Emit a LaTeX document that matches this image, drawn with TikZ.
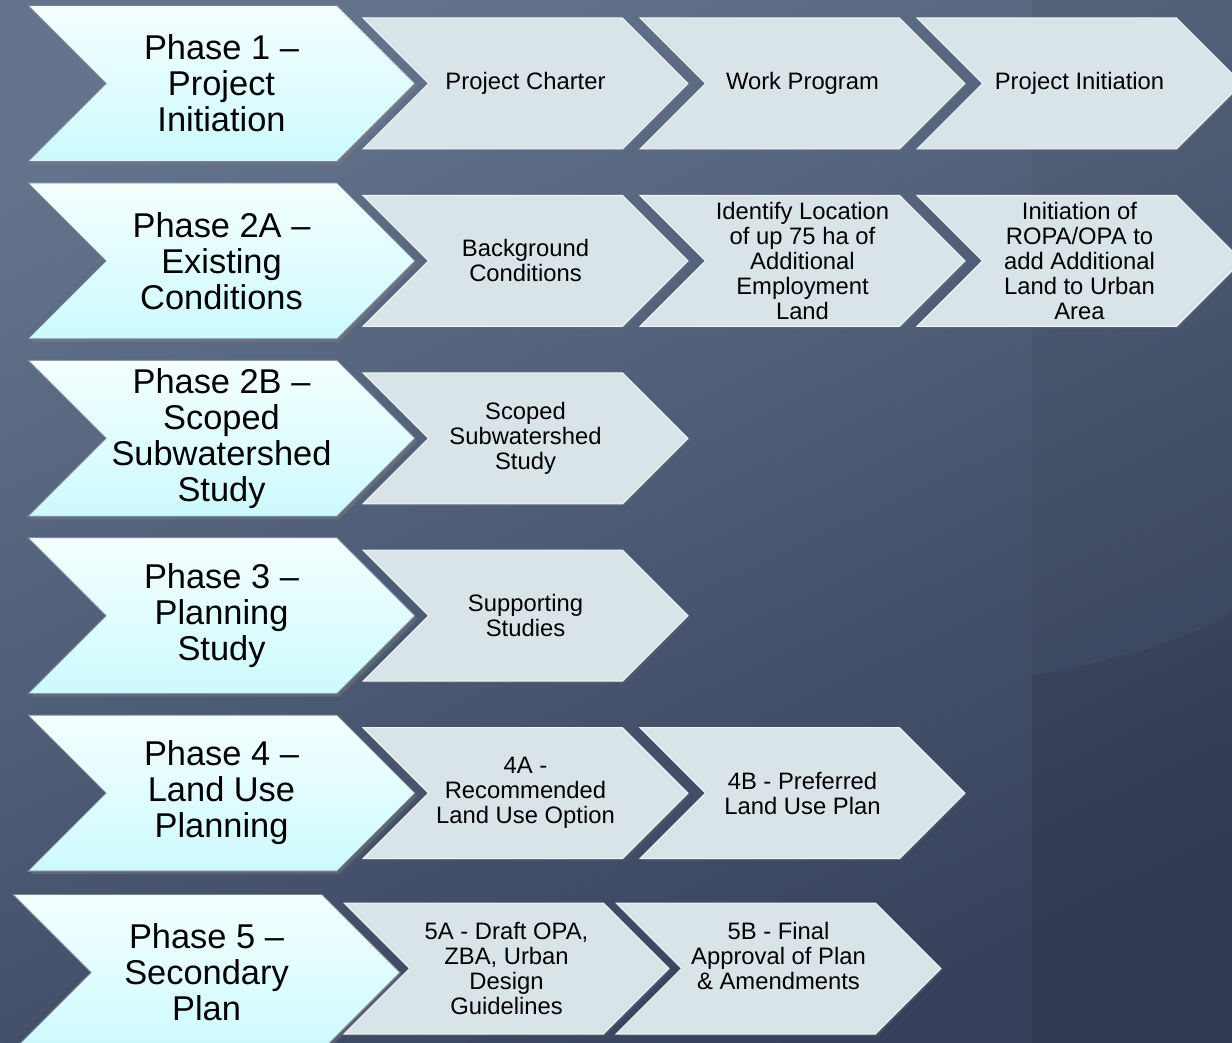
\documentclass[tikz,border=0pt]{standalone}
\usepackage{fontspec}
\setmainfont{Liberation Sans}
\usetikzlibrary{positioning, shapes.symbols, shadows}
\definecolor{bgtop}{RGB}{99,115,139}
\definecolor{bgbottom}{RGB}{55,65,92}
\definecolor{phasetop}{RGB}{245,255,255}
\definecolor{phasebottom}{RGB}{204,250,253}
\definecolor{phaseline}{RGB}{120,132,148}
\definecolor{taskfill}{RGB}{217,228,232}

\begin{document}
\begin{tikzpicture}[
    node distance=10.3pt,
    every node/.style={font=\fontsize{11.9}{12.5}\selectfont, align=center, text=black},
    phase/.style={signal, signal from=west, signal to=east, signal pointer angle=90,
        minimum width=193.5pt, minimum height=78pt, inner sep=0pt,
        top color=phasetop, bottom color=phasebottom, draw=phaseline, line width=0.4pt,
        drop shadow={opacity=0.4, shadow xshift=1.2pt, shadow yshift=-1.5pt},
        font=\fontsize{17.2}{18}\selectfont},
    task/.style={signal, signal from=west, signal to=east, signal pointer angle=90,
        minimum width=162.5pt, minimum height=65.5pt, inner sep=0pt,
        fill=taskfill, draw=white!60!taskfill, line width=0.5pt,
        drop shadow={opacity=0.2, shadow xshift=1pt, shadow yshift=-1pt}}
    ]

    % Background
    \useasboundingbox (0,0) rectangle (616pt,-521.5pt);
    \shade[top color=bgtop, bottom color=bgbottom, shading angle=25] (0,0) rectangle (616pt,-521.5pt);
    \fill[black, opacity=0.06] (516pt,-338pt) .. controls (560pt,-330pt) and (600pt,-318pt) .. (616pt,-306pt) -- (616pt,-521.5pt) -- (516pt,-521.5pt) -- cycle;
    \fill[black, opacity=0.04] (516pt,0) rectangle (616pt,-521.5pt);

    % Phases
    \node[phase] (ph1) at (110.75pt,-41.75pt) {Phase 1 --\\Project\\Initiation};
    \node[phase, below=of ph1] (ph2a) {Phase 2A --\\Existing\\Conditions};
    \node[phase, below=of ph2a] (ph2b) {Phase 2B --\\Scoped\\Subwatershed\\Study};
    \node[phase, below=of ph2b] (ph3) {Phase 3 --\\Planning\\Study};
    \node[phase, below=of ph3] (ph4) {Phase 4 --\\Land Use\\Planning};
    \node[phase, below=of ph4, xshift=-7.5pt, yshift=-1pt] (ph5) {Phase 5 --\\Secondary\\Plan};

    % Phase 1 steps
    \node[task] (charter) at ([xshift=152pt]ph1.center) {Project Charter};
    \node[task] (workprog) at ([xshift=138.5pt]charter.center) {Work Program};
    \node[task] (initiation) at ([xshift=138.5pt]workprog.center) {Project Initiation};

    % Phase 2A steps
    \node[task] (background) at ([xshift=152pt]ph2a.center) {Background\\Conditions};
    \node[task] (location) at ([xshift=138.5pt]background.center) {Identify Location\\of up 75 ha of\\Additional\\Employment\\Land};
    \node[task] (ropa) at ([xshift=138.5pt]location.center) {Initiation of\\ROPA/OPA to\\add Additional\\Land to Urban\\Area};

    % Phase 2B and 3 steps
    \node[task] (subwater) at ([xshift=152pt]ph2b.center) {Scoped\\Subwatershed\\Study};
    \node[task] (support) at ([xshift=152pt]ph3.center) {Supporting\\Studies};

    % Phase 4 steps
    \node[task] (option) at ([xshift=152pt]ph4.center) {4A -\\Recommended\\Land Use Option};
    \node[task] (preferred) at ([xshift=138.5pt]option.center) {4B - Preferred\\Land Use Plan};

    % Phase 5 steps
    \node[task] (draft) at ([xshift=150pt, yshift=2pt]ph5.center) {5A - Draft OPA,\\ZBA, Urban\\Design\\Guidelines};
    \node[task] (approval) at ([xshift=136pt]draft.center) {5B - Final\\Approval of Plan\\\& Amendments\\\mbox{}};

\end{tikzpicture}
\end{document}
